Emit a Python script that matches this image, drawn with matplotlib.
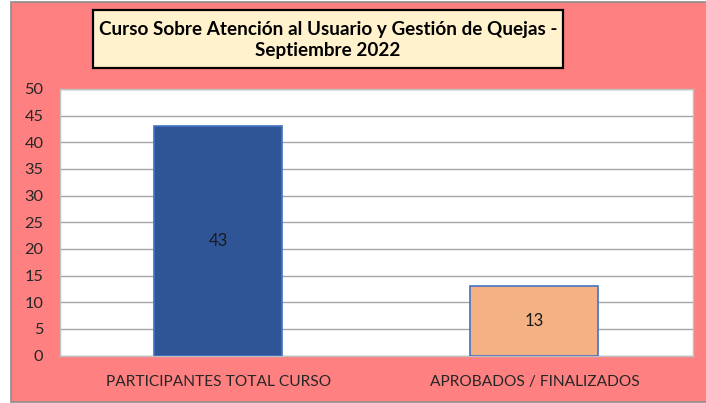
import matplotlib.pyplot as plt
from matplotlib.patches import Rectangle

categorias = ["PARTICIPANTES TOTAL CURSO", "APROBADOS / FINALIZADOS"]
valores = [43, 13]
colores = ["#2F5597", "#F4B183"]
titulo = "Curso Sobre Atención al Usuario y Gestión de Quejas -\nSeptiembre 2022"

plt.rcParams['font.family'] = ['Lato', 'DejaVu Sans']

W, H = 706, 403
fig = plt.figure(figsize=(W / 100, H / 100), dpi=100)
fig.patch.set_facecolor("white")

# fondo salmón del área del gráfico
fig.patches.append(Rectangle((11 / W, 1.5 / H), 1, (H - 3) / H, transform=fig.transFigure,
                             facecolor="#FF8080", edgecolor="#8C8C8C", linewidth=1.2, zorder=-5))

ax = fig.add_axes([60 / W, (H - 355.5) / H, (692.5 - 60) / W, (355.5 - 89) / H])
ax.set_facecolor("white")

x = range(len(categorias))
barras = ax.bar(x, valores, width=0.405, color=colores, edgecolor="#4472C4", linewidth=1.2, zorder=3)
ax.bar_label(barras, labels=[str(v) for v in valores], label_type="center", fontsize=12, color="#1A1A1A")

ax.set_xlim(-0.5, 1.5)
ax.set_ylim(0, 50)
ax.set_yticks(range(0, 51, 5))
ax.set_xticks(list(x))
ax.set_xticklabels(categorias)
ax.tick_params(axis="both", length=0, labelcolor="#262626")
ax.tick_params(axis="y", pad=12, labelsize=11.8)
ax.tick_params(axis="x", pad=14, labelsize=11.2)
ax.grid(axis="y", color="#A6A6A6", linewidth=1.0, zorder=1)
for s in ax.spines.values():
    s.set_color("#BFBFBF")
    s.set_linewidth(1.0)

# cuadro del título
fig.patches.append(Rectangle((93 / W, (H - 68) / H), (563 - 93) / W, 58 / H, transform=fig.transFigure,
                             facecolor="#FFF2CC", edgecolor="black", linewidth=1.6, zorder=2))
fig.text(328 / W, (H - 40) / H, titulo, ha="center", va="center", fontsize=13.6,
         fontweight="bold", linespacing=1.3, color="black", zorder=3)

fig.savefig("out.png", dpi=100)
